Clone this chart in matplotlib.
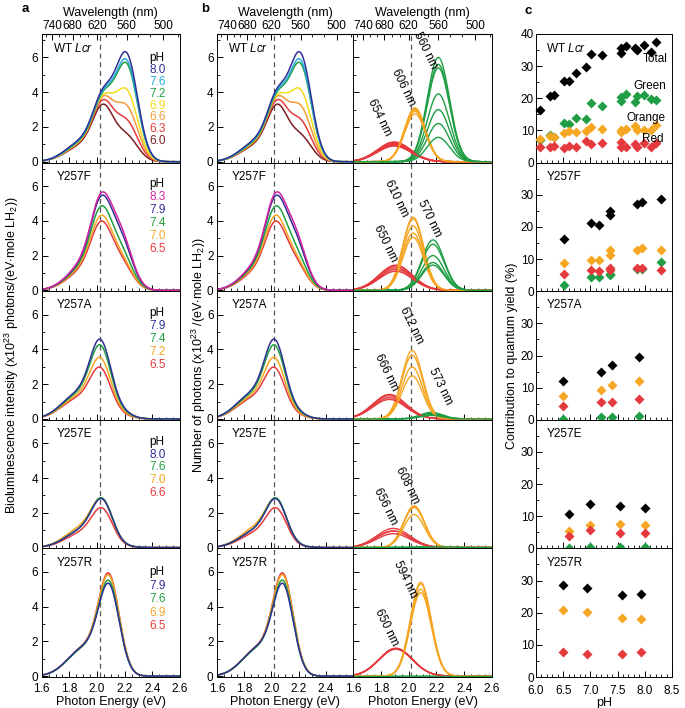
import numpy as np
import matplotlib.pyplot as plt
from matplotlib.ticker import MultipleLocator

plt.rcParams['font.family'] = ['Liberation Sans', 'DejaVu Sans']
plt.rcParams['font.size'] = 8
plt.rcParams['mathtext.fontset'] = 'custom'
plt.rcParams['mathtext.rm'] = 'Liberation Sans'
plt.rcParams['mathtext.it'] = 'Liberation Sans:italic'

# ---- spectral decomposition (amplitudes x10^23, peak in nm)
sig_green, sig_orange, sig_red = 0.08, 0.075, 0.12

wt_ph = [8.0, 7.6, 7.2, 6.9, 6.6, 6.3, 6.0]
wt_green = [6.0, 5.6, 5.4, 3.9, 3.0, 2.2, 1.4]
wt_orange = [3.1, 3.05, 3.0, 3.0, 3.0, 2.9, 2.75]
wt_red = [1.14, 1.1, 1.05, 1.0, 1.0, 0.95, 0.9]
wt_peaks = [560, 606, 654]

f_ph = [8.3, 7.9, 7.4, 7.0, 6.5]
f_green = [2.9, 2.65, 2.0, 1.6, 1.45]
f_orange = [4.2, 4.1, 3.7, 3.3, 3.05]
f_red = [1.45, 1.4, 1.3, 1.2, 1.1]
f_peaks = [570, 610, 650]

a_ph = [7.9, 7.4, 7.2, 6.5]
a_green = [0.38, 0.32, 0.25, 0.2]
a_orange = [3.94, 3.66, 2.99, 2.48]
a_red = [1.41, 1.33, 1.22, 1.12]
a_peaks = [573, 612, 666]

e_ph = [8.0, 7.6, 7.0, 6.6]
e_green = [0.05, 0.05, 0.05, 0.04]
e_orange = [2.35, 2.4, 2.3, 1.9]
e_red = [0.95, 0.95, 1.1, 0.8]
e_peaks = [565, 608, 656]

r_ph = [7.9, 7.6, 6.9, 6.5]
r_green = [0.0, 0.0, 0.0, 0.0]
r_orange = [4.8, 5.0, 5.3, 5.4]
r_red = [1.6, 1.55, 1.58, 1.6]
r_peaks = [560, 594, 650]

row_names = [r'WT $\it{Lcr}$', 'Y257F', 'Y257A', 'Y257E', 'Y257R']
row_colors = [
    ['#2e3192', '#29abe2', '#1fa040', '#f2dc1b', '#f39c3a', '#e43a3d', '#7a1f1f'],
    ['#d6249f', '#2e3192', '#1fa040', '#f5a623', '#e43a3d'],
    ['#2e3192', '#1fa040', '#f5a623', '#e43a3d'],
    ['#2e3192', '#1fa040', '#f5a623', '#e43a3d'],
    ['#2e3192', '#1fa040', '#f5a623', '#e43a3d'],
]

# ---- panel c: contribution to quantum yield (%)
c_wt_ph = [6.08, 6.25, 6.34, 6.52, 6.61, 6.74, 6.91, 7.01, 7.21, 7.56, 7.57, 7.65, 7.82, 7.86, 7.99, 8.11, 8.21]
c_wt_total = [16.5, 20.7, 21.0, 25.5, 25.3, 28.0, 29.6, 33.9, 33.5, 34.0, 35.8, 36.3, 35.8, 35.1, 36.7, 34.3, 37.4]
c_wt_green = [7.0, 8.7, 7.9, 12.3, 12.0, 13.9, 13.6, 18.4, 17.5, 19.1, 20.5, 21.4, 18.9, 20.7, 20.9, 19.9, 19.6]
c_wt_orange = [7.4, 8.4, 8.1, 9.2, 9.9, 9.4, 9.9, 11.1, 10.5, 10.0, 9.6, 10.5, 11.3, 10.2, 10.0, 10.0, 11.6]
c_wt_red = [4.7, 4.7, 5.2, 4.5, 5.3, 5.0, 6.6, 5.7, 6.1, 4.8, 6.4, 4.8, 5.7, 5.0, 6.1, 4.7, 6.1]

c_f_ph = [6.51, 7.01, 7.15, 7.36, 7.36, 7.85, 7.95, 8.30]
c_f_total = [16.2, 21.2, 20.7, 25.1, 23.8, 27.2, 27.9, 28.7]
c_f_green = [1.9, 4.5, 4.5, 5.5, 5.0, 6.8, 7.0, 9.1]
c_f_orange = [8.9, 9.7, 9.7, 12.7, 11.3, 12.7, 13.3, 12.9]
c_f_red = [5.4, 6.6, 6.3, 7.1, 6.5, 7.3, 7.1, 6.6]

c_a_ph = [6.5, 7.2, 7.4, 7.9]
c_a_total = [12.2, 14.8, 17.0, 19.5]
c_a_green = [0.4, 0.9, 1.0, 1.3]
c_a_orange = [7.3, 9.2, 10.8, 12.2]
c_a_red = [4.4, 5.6, 5.4, 6.5]

c_e_ph = [6.6, 7.0, 7.55, 8.0]
c_e_total = [10.6, 13.7, 13.1, 12.6]
c_e_green = [0.2, 0.5, 0.5, 0.5]
c_e_orange = [5.4, 7.3, 7.7, 7.2]
c_e_red = [3.9, 5.8, 4.7, 4.7]

c_r_ph = [6.49, 6.93, 7.59, 7.93]
c_r_total = [28.7, 27.7, 25.6, 25.8]
c_r_orange = [20.7, 20.2, 18.3, 18.0]
c_r_red = [7.8, 7.3, 7.3, 7.8]

wl_ticks = [740, 680, 620, 560, 500]
wl_minor = [760, 720, 700, 660, 640, 600, 580, 540, 520, 480]

rows = [
    (wt_ph, wt_green, wt_orange, wt_red, wt_peaks),
    (f_ph, f_green, f_orange, f_red, f_peaks),
    (a_ph, a_green, a_orange, a_red, a_peaks),
    (e_ph, e_green, e_orange, e_red, e_peaks),
    (r_ph, r_green, r_orange, r_red, r_peaks),
]
c_rows = [
    (c_wt_ph, c_wt_total, c_wt_green, c_wt_orange, c_wt_red),
    (c_f_ph, c_f_total, c_f_green, c_f_orange, c_f_red),
    (c_a_ph, c_a_total, c_a_green, c_a_orange, c_a_red),
    (c_e_ph, c_e_total, c_e_green, c_e_orange, c_e_red),
    (c_r_ph, c_r_total, None, c_r_orange, c_r_red),
]

GREEN, ORANGE, RED = '#1f9e45', '#f5a623', '#e43a3d'
DASH_E = 2.02
HC = 1239.84


def gauss(E, A, E0, s):
    return A * np.exp(-(E - E0) ** 2 / (2 * s ** 2))


def nm2ev(x):
    x = np.asarray(x, dtype=float)
    with np.errstate(divide='ignore'):
        return HC / x


W, H = 685, 708
top0, rh = 34, 128.6


def rect(x0, x1, i):
    top = top0 + rh * i
    return [x0 / W, 1 - (top + rh) / H, (x1 - x0) / W, rh / H]


def style(ax, xmaj, xmin, ymaj, ymin):
    ax.xaxis.set_major_locator(MultipleLocator(xmaj))
    ax.xaxis.set_minor_locator(MultipleLocator(xmin))
    ax.yaxis.set_major_locator(MultipleLocator(ymaj))
    ax.yaxis.set_minor_locator(MultipleLocator(ymin))
    ax.tick_params(which='both', direction='in', top=False, right=False, labelsize=8.5, pad=2.5)
    ax.tick_params(axis='x', pad=4)
    ax.tick_params(which='major', length=4, width=0.7)
    ax.tick_params(which='minor', length=2.2, width=0.6)
    for s in ax.spines.values():
        s.set_linewidth(0.7)


fig = plt.figure(figsize=(6.85, 7.08), dpi=100)
E = np.linspace(1.6, 2.6, 500)

legend_y0 = [0.816, 0.83, 0.83, 0.83, 0.816]
legend_dy = [0.093, 0.1, 0.1, 0.1, 0.105]

label_pos = [
    [(2.12, 6.4, '560 nm'), (1.96, 4.3, '606 nm'), (1.79, 2.55, '654 nm')],
    [(2.15, 4.15, '570 nm'), (1.91, 5.3, '610 nm'), (1.83, 2.72, '650 nm')],
    [(2.23, 1.85, '573 nm'), (2.02, 5.37, '612 nm'), (1.84, 2.7, '666 nm')],
    [None, (1.99, 3.58, '608 nm'), (1.83, 2.34, '656 nm')],
    [None, (1.975, 5.58, '594 nm'), (1.84, 2.82, '650 nm')],
]

for i, (ph, gA, oA, rA, peaks) in enumerate(rows):
    gE, oE, rE = nm2ev(peaks)
    cols = row_colors[i]
    ax_a = fig.add_axes(rect(41.7, 180, i))
    ax_b = fig.add_axes(rect(217, 353, i))
    ax_d = fig.add_axes(rect(353, 492, i))
    for ax in (ax_a, ax_b, ax_d):
        style(ax, 0.2, 0.05, 2, 1)
        ax.set_xlim(1.6, 2.6)
        ax.set_ylim(-0.05, 7.35)
        ax.axvline(DASH_E, color='#555555', lw=0.9, dashes=(4, 3), zorder=0)
        if i < 4:
            ax.set_xticklabels([])
        else:
            ax.set_xlabel('Photon Energy (eV)', fontsize=9, labelpad=1)
            ax.set_xticks([1.6, 1.8, 2.0, 2.2, 2.4, 2.6])
            labs = ['1.6', '1.8', '2.0', '2.2', '2.4', '2.6']
            if ax is ax_b:
                labs[-1] = ''
            ax.set_xticklabels(labs)
    ax_d.set_yticklabels([])
    ax_a.set_yticks([0, 2, 4, 6])
    ax_b.set_yticks([0, 2, 4, 6])

    for k in range(len(ph) - 1, -1, -1):
        total = gauss(E, gA[k], gE, sig_green) + gauss(E, oA[k], oE, sig_orange) + gauss(E, rA[k], rE, sig_red)
        ax_a.plot(E, total, color=cols[k], lw=1.1)
        ax_b.plot(E, total, color=cols[k], lw=1.1)
    for k in range(len(ph)):
        ax_d.plot(E, gauss(E, rA[k], rE, sig_red), color=RED, lw=1.0)
        ax_d.plot(E, gauss(E, oA[k], oE, sig_orange), color=ORANGE, lw=1.0)
        ax_d.plot(E, gauss(E, gA[k], gE, sig_green), color=GREEN, lw=1.0)

    for ax in (ax_a, ax_b):
        ax.text(0.08 if i == 0 else 0.11, 0.89, row_names[i], transform=ax.transAxes,
                ha='left', va='center', fontsize=8.5)

    # pH legend
    y = legend_y0[i]
    ax_a.text(0.78, y, 'pH', transform=ax_a.transAxes, ha='left', va='center', fontsize=8.5)
    for k, p in enumerate(ph):
        ax_a.text(0.78, y - legend_dy[i] * (k + 1), f'{p:.1f}', color=cols[k],
                  transform=ax_a.transAxes, ha='left', va='center', fontsize=8.5)

    for lp in label_pos[i]:
        if lp is not None:
            ax_d.text(lp[0], lp[1], lp[2], rotation=-64, ha='center', va='center',
                      fontsize=8.5, rotation_mode='anchor')

    if i == 0:
        for ax in (ax_a, ax_b, ax_d):
            sec = ax.secondary_xaxis('top', functions=(nm2ev, nm2ev))
            sec.set_xticks(wl_ticks)
            sec.set_xticks(wl_minor, minor=True)
            sec.tick_params(which='both', direction='in', labelsize=8.5, pad=1.5)
            sec.tick_params(which='major', length=4, width=0.7)
            sec.tick_params(which='minor', length=2.2, width=0.6)
            sec.set_xlabel('Wavelength (nm)', fontsize=9, labelpad=3)

    # panel c
    cph, ctot, cg, co, cr = c_rows[i]
    ax_c = fig.add_axes(rect(536, 672, i))
    style(ax_c, 0.5, 0.1, 10, 5)
    ax_c.tick_params(axis='y', pad=1.5)
    ax_c.tick_params(axis='x', pad=5.5)
    ax_c.set_xlim(6.0, 8.5)
    ax_c.set_ylim(0, 40)
    ax_c.set_yticks([0, 10, 20, 30, 40])
    if i > 0:
        ax_c.set_yticklabels(['0', '10', '20', '30', ''])
    if i < 4:
        ax_c.set_xticklabels([])
    else:
        ax_c.set_xticks([6.0, 6.5, 7.0, 7.5, 8.0, 8.5])
        ax_c.set_xticklabels(['6.0', '6.5', '7.0', '7.5', '8.0', '8.5'])
        ax_c.set_xlabel('pH', fontsize=9, labelpad=0)
    mk = dict(marker='D', s=26, linewidths=0, clip_on=False, zorder=3)
    if cg is not None:
        ax_c.scatter(cph, cg, color=GREEN, **mk)
    ax_c.scatter(cph, co, color=ORANGE, **mk)
    ax_c.scatter(cph, cr, color=RED, **mk)
    ax_c.scatter(cph, ctot, color='black', **mk)
    ax_c.text(0.07 if i == 0 else 0.08, 0.89, row_names[i], transform=ax_c.transAxes,
              ha='left', va='center', fontsize=8.5)
    if i == 0:
        ax_c.text(8.19, 32.2, 'Total', ha='center', va='center', fontsize=8.5)
        ax_c.text(8.1, 23.7, 'Green', ha='center', va='center', fontsize=8.5)
        ax_c.text(8.03, 14.0, 'Orange', ha='center', va='center', fontsize=8.5)
        ax_c.text(8.15, 7.2, 'Red', ha='center', va='center', fontsize=8.5)

mid = 1 - (top0 + rh * 2.5) / H
fig.text(12 / W, mid, r'Bioluminescence intensity (x10$^{23}$ photons/(eV$\cdot$mole LH$_2$))',
         rotation=90, ha='center', va='center', fontsize=9)
fig.text(199 / W, mid, r'Number of photons (x10$^{23}$ /(eV$\cdot$mole LH$_2$))',
         rotation=90, ha='center', va='center', fontsize=9)
fig.text(512 / W, mid, 'Contribution to quantum yield (%)',
         rotation=90, ha='center', va='center', fontsize=9)

fig.text(25 / W, 1 - 9 / H, 'a', fontweight='bold', ha='center', va='center', fontsize=9.5)
fig.text(205 / W, 1 - 9 / H, 'b', fontweight='bold', ha='center', va='center', fontsize=9.5)
fig.text(528 / W, 1 - 11 / H, 'c', fontweight='bold', ha='center', va='center', fontsize=9.5)

fig.savefig('out.png', dpi=100)
